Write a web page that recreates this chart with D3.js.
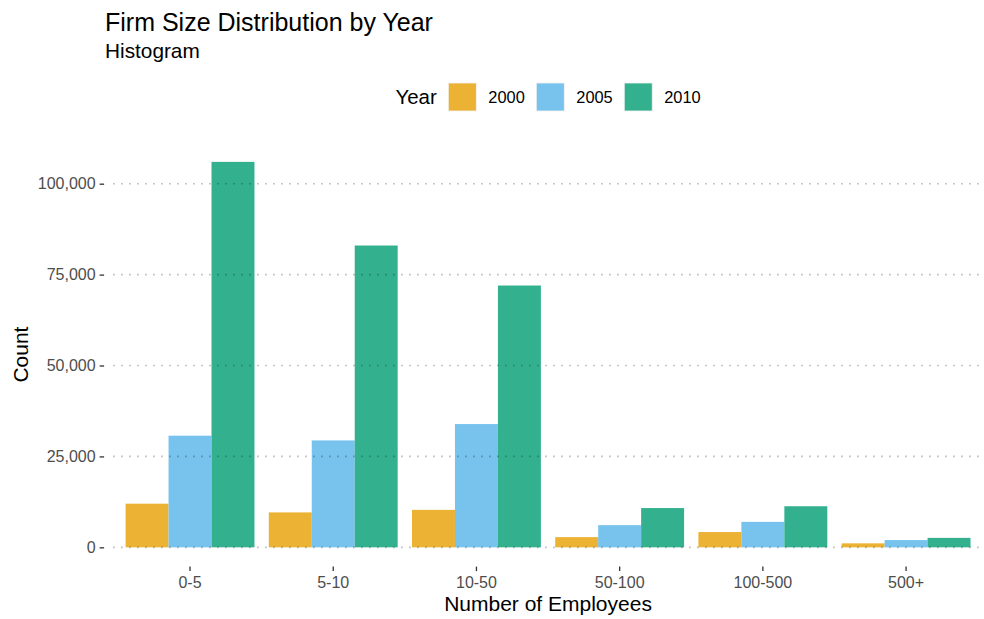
<!DOCTYPE html>
<html>
<head>
<meta charset="utf-8">
<script src="https://cdn.jsdelivr.net/npm/d3@7/dist/d3.min.js"></script>
<style>
  html, body { margin: 0; padding: 0; background: #fff; }
  svg { display: block; font-family: "Liberation Sans", Arial, sans-serif; }
</style>
</head>
<body>
<svg id="chart" width="984" height="619"></svg>
<script>
// data
const sizes = ['0-5', '5-10', '10-50', '50-100', '100-500', '500+'];
const years = ['2000', '2005', '2010'];
const counts2000 = [12000, 9600, 10300, 2800, 4200, 1100];
const counts2005 = [30700, 29400, 33900, 6100, 7000, 2000];
const counts2010 = [106000, 83000, 72000, 10800, 11300, 2600];
const yTicks = [0, 25000, 50000, 75000, 100000];
const colors = ['#EBB233', '#78C3ED', '#33B18F'];

const series = [counts2000, counts2005, counts2010];
const rows = [];
sizes.forEach((s, i) => {
    years.forEach((yr, j) => {
        rows.push({ size: s, year: yr, value: series[j][i] });
    });
});

const width = 984;
const height = 619;
const panel = { left: 104.1, right: 992, top: 142.6, bottom: 566.6 };

const svg = d3.select('#chart');

// scales (discrete expansion 0.6, dodge width 0.9 like ggplot)
const x = d3.scaleBand()
    .domain(sizes)
    .range([panel.left, panel.right])
    .paddingInner(0.1)
    .paddingOuter(0.15);

const xIn = d3.scaleBand()
    .domain(years)
    .range([0, x.bandwidth()]);

const maxVal = d3.max(rows, (d) => d.value);
const pad = maxVal * 0.05;
const y = d3.scaleLinear()
    .domain([-pad, maxVal + pad])
    .range([panel.bottom, panel.top]);

const color = d3.scaleOrdinal().domain(years).range(colors);

svg.append('clipPath').attr('id', 'panel-clip')
    .append('rect')
    .attr('x', panel.left)
    .attr('y', panel.top)
    .attr('width', Math.min(panel.right, width) - panel.left)
    .attr('height', panel.bottom - panel.top);

// bars
svg.append('g')
    .attr('id', 'bars')
    .selectAll('rect')
    .data(rows)
    .join('rect')
    .attr('x', (d) => x(d.size) + xIn(d.year))
    .attr('y', (d) => y(d.value))
    .attr('width', xIn.bandwidth())
    .attr('height', (d) => y(0) - y(d.value))
    .attr('fill', (d) => color(d.year));

// dotted grid on top of the bars
svg.append('g')
    .attr('id', 'grid')
    .attr('clip-path', 'url(#panel-clip)')
    .selectAll('line')
    .data(yTicks)
    .join('line')
    .attr('x1', panel.left + 9)
    .attr('x2', panel.right)
    .attr('y1', (d) => y(d))
    .attr('y2', (d) => y(d))
    .attr('stroke', '#000')
    .attr('stroke-opacity', 0.27)
    .attr('stroke-width', 1.6)
    .attr('stroke-dasharray', '1.6,6.4');

// y axis
const yAxis = svg.append('g')
    .attr('transform', `translate(${panel.left},0)`)
    .call(d3.axisLeft(y).tickValues(yTicks).tickFormat(d3.format(',')).tickSize(4.5).tickPadding(4));
yAxis.select('.domain').remove();
yAxis.selectAll('.tick line').attr('stroke', '#333').attr('stroke-width', 1.3);
yAxis.selectAll('.tick text')
    .attr('fill', '#4d4d4d')
    .style('font-size', '16px')
    .style('font-family', '"Liberation Sans", Arial, sans-serif');

// x axis
const xAxis = svg.append('g')
    .attr('transform', `translate(0,${panel.bottom})`)
    .call(d3.axisBottom(x).tickSize(4.5).tickPadding(6));
xAxis.select('.domain').remove();
xAxis.selectAll('.tick line').attr('stroke', '#333').attr('stroke-width', 1.3);
xAxis.selectAll('.tick text')
    .attr('fill', '#4d4d4d')
    .style('font-size', '16px')
    .style('font-family', '"Liberation Sans", Arial, sans-serif');

const midX = (panel.left + panel.right) / 2;

// axis titles
svg.append('text')
    .attr('x', midX)
    .attr('y', 611)
    .attr('text-anchor', 'middle')
    .style('font-size', '21px')
    .text('Number of Employees');

svg.append('text')
    .attr('transform', `translate(28,${(panel.top + panel.bottom) / 2}) rotate(-90)`)
    .attr('text-anchor', 'middle')
    .style('font-size', '21px')
    .text('Count');

// titles
svg.append('text')
    .attr('x', 105)
    .attr('y', 30.5)
    .style('font-size', '25px')
    .text('Firm Size Distribution by Year');

svg.append('text')
    .attr('x', 105)
    .attr('y', 58)
    .style('font-size', '20.8px')
    .text('Histogram');

// legend, centred over the panel
const legend = svg.append('g').attr('id', 'legend');
const keySize = 28;
const keyY = 83;
const legTitle = legend.append('text')
    .attr('y', keyY + keySize / 2 + 7)
    .style('font-size', '20.5px')
    .text('Year');
let cursor = legTitle.node().getComputedTextLength() + 11.5;
years.forEach((yr) => {
    const g = legend.append('g');
    g.append('rect')
        .attr('x', cursor)
        .attr('y', keyY)
        .attr('width', keySize)
        .attr('height', keySize)
        .attr('fill', color(yr))
        .attr('stroke', '#f2f2f2')
        .attr('stroke-width', 0.8);
    const t = g.append('text')
        .attr('x', cursor + keySize + 12)
        .attr('y', keyY + keySize / 2 + 5.5)
        .style('font-size', '16.4px')
        .text(yr);
    cursor += keySize + 12 + t.node().getComputedTextLength() + 11.5;
});
const legWidth = cursor - 11.5;
legend.attr('transform', `translate(${midX - legWidth / 2},0)`);
</script>
</body>
</html>
